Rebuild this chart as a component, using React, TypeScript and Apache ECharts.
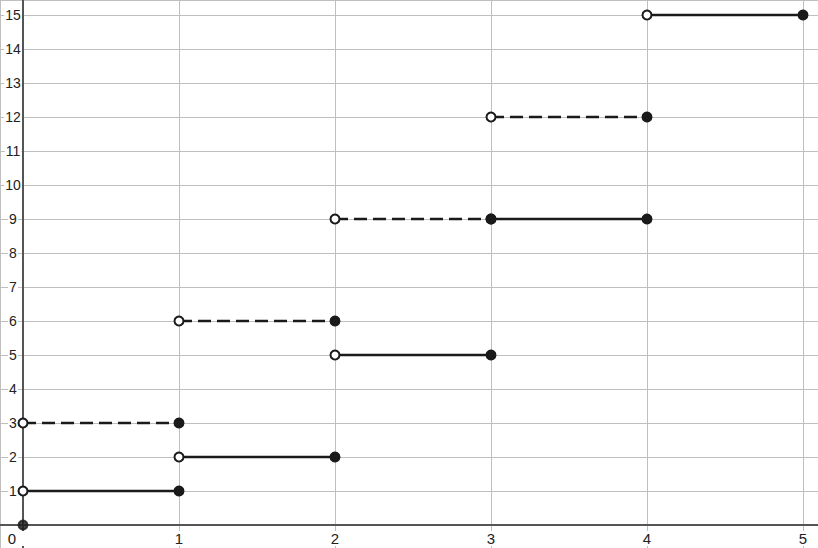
import React, { useEffect, useRef } from "react";
import * as echarts from "echarts";

const W = 818;
const H = 548;

// Axis extents (data units)
const xMin = -0.1474;
const xMax = 5.0962;
const yMin = -0.676;
const yMax = 15.441;

// Solid step segments: [xStart, xEnd, y] (open at start, closed at end)
const solidSegments: [number, number, number][] = [
  [0, 1, 1],
  [1, 2, 2],
  [2, 3, 5],
  [3, 4, 9],
  [4, 5, 15],
];

// Dashed step segments: [xStart, xEnd, y]
const dashedSegments: [number, number, number][] = [
  [0, 1, 3],
  [1, 2, 6],
  [2, 3, 9],
  [3, 4, 12],
];

// Isolated closed point
const originPoint: [number, number][] = [[0, 0]];

const INK = "#1a1a1a";
const FONT = "Liberation Sans, Arial, sans-serif";
const openStyle = { color: "#ffffff", borderColor: INK, borderWidth: 2 };
const closedStyle = { color: INK, borderColor: INK, borderWidth: 2 };

function buildData(segs: [number, number, number][]) {
  const out: any[] = [];
  segs.forEach((s, i) => {
    if (i > 0) out.push("-");
    out.push({ value: [s[0], s[2]], itemStyle: openStyle });
    out.push({ value: [s[1], s[2]], itemStyle: closedStyle });
  });
  return out;
}

export default function App() {
  const ref = useRef<HTMLDivElement>(null);
  useEffect(() => {
    document.body.style.margin = "0";
    if (!ref.current) return;
    const chart = echarts.init(ref.current, undefined, { renderer: "svg" });
    const isInt = (v: number) => Math.abs(v - Math.round(v)) < 1e-6;
    // pixel distance from grid edges to the zero lines
    const xZeroOff = ((0 - xMin) / (xMax - xMin)) * W;
    const yZeroOff = ((0 - yMin) / (yMax - yMin)) * H;

    const baseX = {
      type: "value",
      min: xMin,
      max: xMax,
      splitNumber: 5,
      minInterval: 1,
      maxInterval: 1,
    };
    const baseY = {
      type: "value",
      min: yMin,
      max: yMax,
      splitNumber: 15,
      minInterval: 1,
      maxInterval: 1,
    };

    chart.setOption({
      animation: false,
      backgroundColor: "#ffffff",
      grid: {
        left: 0,
        right: 0,
        top: 0,
        bottom: 0,
        containLabel: false,
        outerBoundsMode: "none",
      },
      xAxis: [
        {
          ...baseX,
          axisLine: { onZero: true, lineStyle: { color: "#555", width: 2 } },
          axisTick: { show: false },
          splitLine: { show: true, lineStyle: { color: "#bfbfbf", width: 1 } },
          axisLabel: { show: false },
        },
        {
          ...baseX,
          position: "bottom",
          offset: -yZeroOff,
          axisLine: { show: false },
          axisTick: { show: false },
          splitLine: { show: false },
          axisLabel: {
            margin: 6,
            color: "#222",
            fontSize: 15,
            fontFamily: FONT,
            backgroundColor: "#fff",
            padding: [0, 1],
            hideOverlap: false,
            formatter: (v: number) => {
              if (!isInt(v)) return "";
              if (Math.round(v) === 0) return "{o|0}";
              return String(Math.round(v));
            },
            rich: {
              o: {
                fontSize: 15,
                color: "#222",
                fontFamily: FONT,
                padding: [0, 22, 0, 0],
              },
            },
          },
        },
      ],
      yAxis: [
        {
          ...baseY,
          axisLine: { onZero: true, lineStyle: { color: "#555", width: 2 } },
          axisTick: { show: false },
          splitLine: { show: true, lineStyle: { color: "#bfbfbf", width: 1 } },
          axisLabel: { show: false },
        },
        {
          ...baseY,
          position: "left",
          offset: -xZeroOff,
          axisLine: { show: false },
          axisTick: { show: false },
          splitLine: { show: false },
          axisLabel: {
            margin: 10,
            align: "center",
            color: "#222",
            fontSize: 14,
            fontFamily: FONT,
            backgroundColor: "#fff",
            padding: [0, 1],
            hideOverlap: false,
            formatter: (v: number) => {
              if (!isInt(v)) return "";
              if (Math.round(v) === 0) return "";
              return String(Math.round(v));
            },
          },
        },
      ],
      series: [
        {
          type: "line",
          data: buildData(solidSegments),
          connectNulls: false,
          symbol: "circle",
          symbolSize: 9,
          showAllSymbol: true,
          lineStyle: { color: INK, width: 2.5 },
          z: 3,
        },
        {
          type: "line",
          data: buildData(dashedSegments),
          connectNulls: false,
          symbol: "circle",
          symbolSize: 9,
          showAllSymbol: true,
          lineStyle: { color: INK, width: 2.5, type: [13, 6] },
          z: 4,
        },
        {
          type: "scatter",
          data: originPoint,
          symbol: "circle",
          symbolSize: 9,
          itemStyle: closedStyle,
          z: 5,
        },
      ],
    });
    return () => chart.dispose();
  }, []);
  return <div ref={ref} style={{ width: W, height: H }} />;
}
